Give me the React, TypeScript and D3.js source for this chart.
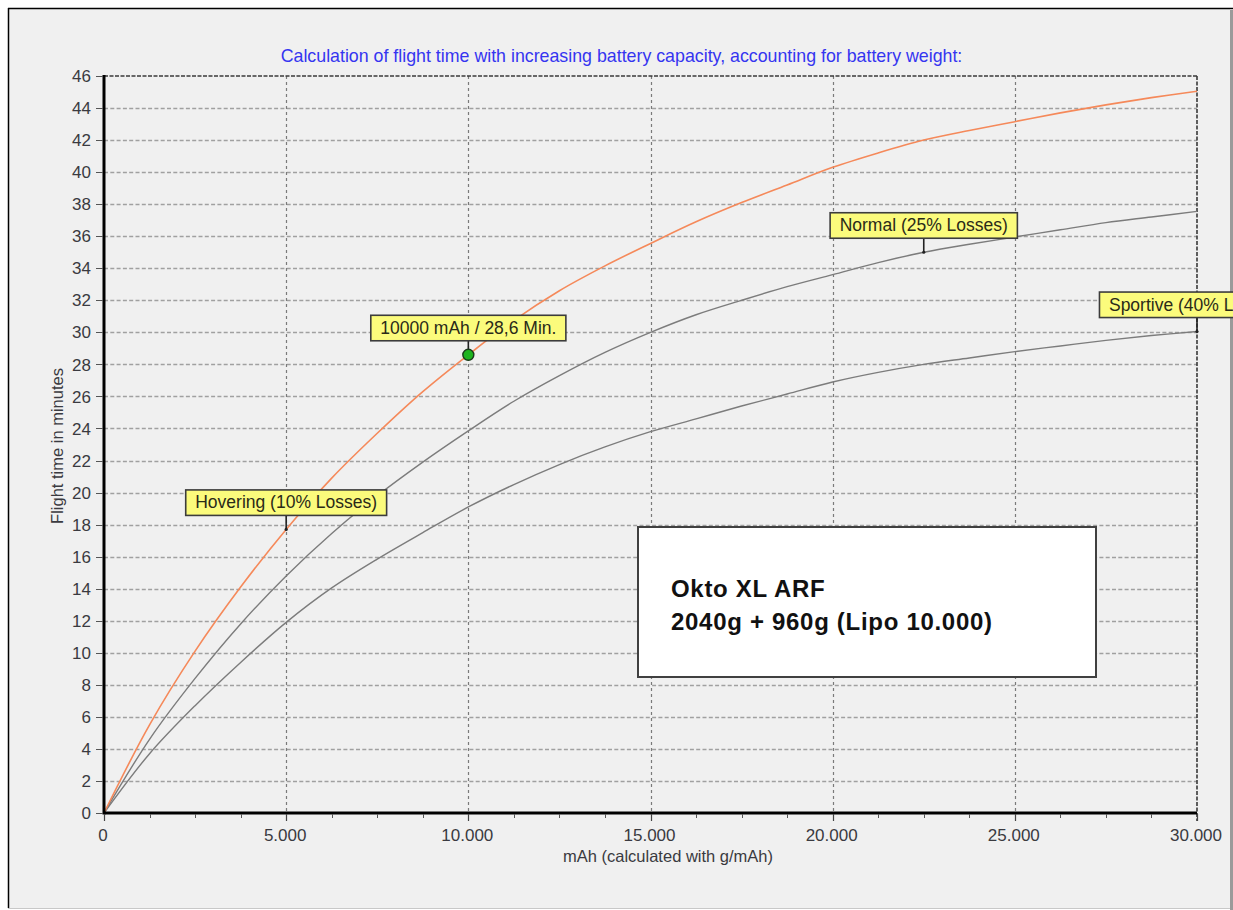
import React from 'react';
import * as d3 from 'd3';

// ---- data ----
const MAH = [0, 1250, 2500, 3750, 5000, 6250, 7500, 8750, 10000, 11250, 12500, 13750, 15000, 16250, 17500, 18750, 20000, 21250, 22500, 23750, 25000, 26250, 27500, 28750, 30000];
const HOVERING = [0, 5.5, 10.1, 14.1, 17.7, 20.9, 23.7, 26.3, 28.6, 30.75, 32.6, 34.15, 35.55, 36.9, 38.1, 39.2, 40.3, 41.2, 42.0, 42.6, 43.15, 43.7, 44.2, 44.65, 45.05];
const NORMAL = [0, 4.6, 8.4, 11.8, 14.8, 17.45, 19.8, 21.9, 23.85, 25.7, 27.3, 28.75, 30.0, 31.1, 32.0, 32.85, 33.6, 34.35, 35.0, 35.5, 35.95, 36.4, 36.85, 37.2, 37.55];
const SPORTIVE = [0, 3.7, 6.7, 9.4, 11.9, 14.05, 15.85, 17.5, 19.1, 20.5, 21.75, 22.85, 23.8, 24.6, 25.4, 26.15, 26.9, 27.5, 28.0, 28.4, 28.8, 29.15, 29.5, 29.8, 30.05];

const Y_TICKS = [0, 2, 4, 6, 8, 10, 12, 14, 16, 18, 20, 22, 24, 26, 28, 30, 32, 34, 36, 38, 40, 42, 44, 46];
const X_TICKS = [0, 5000, 10000, 15000, 20000, 25000, 30000];
const X_TICK_LABELS = ['0', '5.000', '10.000', '15.000', '20.000', '25.000', '30.000'];
const X_MINOR = [1250, 2500, 3750, 6250, 7500, 8750, 11250, 12500, 13750, 16250, 17500, 18750, 21250, 22500, 23750, 26250, 27500, 28750];

const TITLE = 'Calculation of flight time with increasing battery capacity, accounting for battery weight:';
const X_TITLE = 'mAh (calculated with g/mAh)';
const Y_TITLE = 'Flight time in minutes';
const INFO_LINES = ['Okto XL ARF', '2040g + 960g (Lipo 10.000)'];

const ANNOTATIONS = [
  { mah: 5000, value: 17.7, text: 'Hovering (10% Losses)', marker: false },
  { mah: 10000, value: 28.6, text: '10000 mAh / 28,6 Min.', marker: true },
  { mah: 22500, value: 35.0, text: 'Normal (25% Losses)', marker: false },
  { mah: 30000, value: 30.05, text: 'Sportive (40% Losses)', marker: false },
];

const FONT = "'Liberation Sans', Arial, sans-serif";

function measure(text: string, font: string): number {
  const c = document.createElement('canvas');
  const ctx = c.getContext('2d');
  if (!ctx) return text.length * 8;
  ctx.font = font;
  return ctx.measureText(text).width;
}

export default function App() {
  const W = 1233, H = 910;
  const x = d3.scaleLinear().domain([0, 30000]).range([104, 1197]);
  const y = d3.scaleLinear().domain([0, 46]).range([813, 76]);
  const line = d3.line<number>()
    .x((_, i) => x(MAH[i]))
    .y((d) => y(d))
    .curve(d3.curveCatmullRom.alpha(0.5));

  const labelFontSize = 17.5;
  const labelFont = `${labelFontSize}px ${FONT}`;

  return (
    <div style={{ position: 'absolute', left: 0, top: 0 }}>
      <svg width={W} height={H} style={{ display: 'block' }} fontFamily={FONT}>
        <rect x={0} y={0} width={W} height={H} fill="#ffffff" />
        <rect x={8} y={8} width={1222} height={900} fill="#f0f0f0" />
        <line x1={8} y1={8.5} x2={W} y2={8.5} stroke="#000" strokeWidth={1.5} />
        <line x1={8.5} y1={8} x2={8.5} y2={908} stroke="#000" strokeWidth={1.5} />
        <rect x={1230} y={10} width={3} height={900} fill="#9a9a9a" />
        <line x1={8} y1={908.5} x2={1230} y2={908.5} stroke="#c8c8c8" strokeWidth={1} />

        {/* title */}
        <text x={621.5} y={61.5} textAnchor="middle" fontSize={17.8} fill="#3535f0">{TITLE}</text>

        {/* horizontal grid */}
        {Y_TICKS.filter((t) => t > 0 && t < 46).map((t) => (
          <line key={'hg' + t} x1={x(0)} x2={x(30000)} y1={Math.round(y(t)) + 0.5} y2={Math.round(y(t)) + 0.5}
            stroke="#a0a0a0" strokeWidth={1.3} strokeDasharray="4,2.3" />
        ))}
        {/* vertical grid */}
        {X_TICKS.filter((t) => t > 0 && t < 30000).map((t) => (
          <line key={'vg' + t} x1={Math.round(x(t)) + 0.5} x2={Math.round(x(t)) + 0.5} y1={y(46)} y2={y(0)}
            stroke="#7a7a7a" strokeWidth={1.2} strokeDasharray="3,3" />
        ))}

        {/* top / right border (dashed dark) */}
        <line x1={x(0)} x2={x(30000)} y1={y(46)} y2={y(46)} stroke="#3a3a3a" strokeWidth={1.6} strokeDasharray="4,1.5" />
        <line x1={x(30000)} x2={x(30000)} y1={y(46)} y2={y(0) + 8} stroke="#3a3a3a" strokeWidth={1.6} strokeDasharray="4,1.5" />

        {/* curves */}
        <path d={line(SPORTIVE) || ''} fill="none" stroke="#7c7c7c" strokeWidth={1.4} />
        <path d={line(NORMAL) || ''} fill="none" stroke="#7c7c7c" strokeWidth={1.4} />
        <path d={line(HOVERING) || ''} fill="none" stroke="#f5895a" strokeWidth={1.6} />

        {/* info box */}
        <rect x={638} y={527} width={458} height={150} fill="#ffffff" stroke="#404040" strokeWidth={2} />
        {INFO_LINES.map((t, i) => (
          <text key={'info' + i} x={671} y={597 + i * 33} fontSize={24} fontWeight="bold" letterSpacing={0.7} fill="#111">{t}</text>
        ))}

        {/* axes */}
        <line x1={x(0)} x2={x(0)} y1={y(46) - 1} y2={y(0) + 1.5} stroke="#000" strokeWidth={3} />
        <line x1={x(0)} x2={x(30000)} y1={y(0)} y2={y(0)} stroke="#000" strokeWidth={3} />

        {/* y ticks */}
        {Y_TICKS.map((t) => (
          <g key={'yt' + t}>
            <line x1={96} x2={103} y1={Math.round(y(t)) + 0.5} y2={Math.round(y(t)) + 0.5} stroke="#555" strokeWidth={1} />
            <text x={91} y={y(t)} dy="0.36em" textAnchor="end" fontSize={17} fill="#3a3a40">{t}</text>
          </g>
        ))}
        {/* x ticks */}
        {X_MINOR.map((t) => (
          <line key={'xm' + t} x1={Math.round(x(t)) + 0.5} x2={Math.round(x(t)) + 0.5} y1={814} y2={818} stroke="#555" strokeWidth={1} />
        ))}
        {X_TICKS.map((t, i) => (
          <g key={'xt' + t}>
            <line x1={Math.round(x(t)) + 0.5} x2={Math.round(x(t)) + 0.5} y1={814} y2={821} stroke="#444" strokeWidth={1.2} />
            <text x={x(t) - 1} y={840.5} textAnchor="middle" fontSize={17} fill="#3a3a40">{X_TICK_LABELS[i]}</text>
          </g>
        ))}

        {/* axis titles */}
        <text x={668} y={862} textAnchor="middle" fontSize={16.5} fill="#3a3a40">{X_TITLE}</text>
        <text transform={`translate(63,446) rotate(-90)`} textAnchor="middle" fontSize={16.5} fill="#3a3a40">{Y_TITLE}</text>

        {/* annotations */}
        {ANNOTATIONS.map((a, i) => {
          const ax = x(a.mah);
          const ay = y(a.value);
          const tw = measure(a.text, labelFont);
          const bw = tw + 19;
          const bh = 25.5;
          const bottom = ay - 14;
          const left = ax - bw / 2;
          return (
            <g key={'ann' + i}>
              <line x1={ax} x2={ax} y1={bottom} y2={ay} stroke="#222" strokeWidth={1.6} />
              <circle cx={ax} cy={ay} r={1.6} fill="#222" />
              {a.marker && <circle cx={ax} cy={ay} r={5.5} fill="#1fb41f" stroke="#1a3a1a" strokeWidth={1.4} />}
              <rect x={left} y={bottom - bh} width={bw} height={bh} fill="#fbfb7c" stroke="#3c3c3c" strokeWidth={1.6} />
              <text x={left + bw / 2} y={bottom - 7} textAnchor="middle" fontSize={labelFontSize} fill="#2a2a18">{a.text}</text>
            </g>
          );
        })}
      </svg>
    </div>
  );
}
